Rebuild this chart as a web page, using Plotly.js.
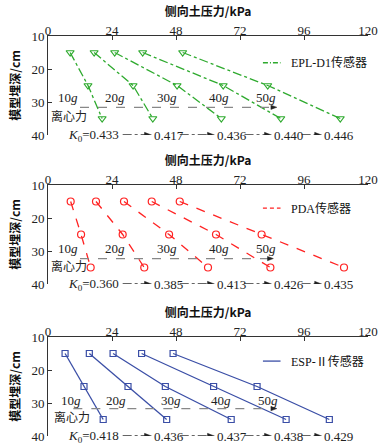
<!DOCTYPE html>
<html><head><meta charset="utf-8">
<script src="https://cdn.plot.ly/plotly-3.0.1.min.js"></script>
<style>body{margin:0;padding:0;background:#fff}#chart{width:382px;height:446px}</style>
</head><body><div id="chart"></div>
<script>
// ---- data ----
const depth = [15, 25, 35];
const gLabels = ['10', '20', '30', '40', '50'];
const eplValues = [[8.3, 15.0, 20.3], [17.3, 31.9, 39.3], [25.0, 48.4, 65.0], [35.5, 65.7, 87.3], [50.5, 82.4, 109.6]];
const pdaValues = [[8.5, 12.4, 16.0], [18.0, 28.0, 36.1], [28.5, 45.4, 60.0], [38.9, 63.0, 83.4], [49.4, 80.1, 111.0]];
const espValues = [[6.4, 13.5, 20.7], [15.5, 30.0, 44.5], [24.4, 44.0, 68.7], [35.1, 62.1, 89.3], [46.9, 78.4, 105.5]];
const eplK0 = ['0.433', '0.417', '0.436', '0.440', '0.446'];
const pdaK0 = ['0.360', '0.385', '0.413', '0.426', '0.435'];
const espK0 = ['0.418', '0.436', '0.437', '0.438', '0.429'];
const sensorNames = ['EPL-D1传感器', 'PDA传感器', 'ESP-Ⅱ传感器'];
const xTicks = [0, 24, 48, 72, 96, 120];
const yTicks = [10, 20, 30, 40];

// ---- styles ----
const panels = [
  {vals: eplValues, k0: eplK0, name: sensorNames[0], color: '#2eaa2e', dash: 'dashdot', symbol: 'triangle-down-open', msize: 7, gy: 28.6, cy: 34.0, ay: 31.6, ax0: 12, ax1: 85.8, legY: 18.1, gx: [7.6, 25.1, 44.5, 64.1, 81.6]},
  {vals: pdaValues, k0: pdaK0, name: sensorNames[1], color: '#ff2222', dash: 'dash', symbol: 'circle-open', msize: 7, gy: 29.3, cy: 34.5, ay: 32.3, ax0: 12, ax1: 84.5, legY: 17.0, gx: [7.6, 25.1, 44.5, 64.1, 81.6]},
  {vals: espValues, k0: espK0, name: sensorNames[2], color: '#3a4ea6', dash: 'solid', symbol: 'square-open', msize: 6, gy: 29.1, cy: 34.2, ay: 31.7, ax0: 9.5, ax1: 85.8, legY: 17.3, gx: [8.6, 25.5, 46.0, 64.9, 82.4]}
];
const W = 382, H = 446;
const xDom = [48 / W, 368 / W];
const yPix = [[36, 135], [185, 284], [337, 436]];
const serif = 'Liberation Serif, Times New Roman, serif';
const cjk = 'Noto Sans CJK SC, sans-serif';

const traces = [];
const annotations = [];
const shapes = [];
const layout = {
  width: W, height: H, margin: {l: 0, r: 0, t: 0, b: 0},
  paper_bgcolor: '#fff', plot_bgcolor: '#fff', showlegend: false,
  font: {family: serif, size: 13, color: '#222'},
  annotations: annotations, shapes: shapes
};

// arrowhead as a filled triangle path (tip at x, y); dx in x-data units, dy in y-data units
function arrowHead(xa, ya, x, y, dx, dy, color) {
  shapes.push({type: 'path', xref: xa, yref: ya,
    path: `M ${x},${y} L ${x - dx},${y - dy} L ${x - dx},${y + dy} Z`,
    fillcolor: color, line: {color: color, width: 0.5}});
}

// K0 row positions (x in data units)
const kLeft = [null, 39.0, 62.6, 84.0, 102.8];
const kRight = [27.4, 48.8, 73.1, 94.5];

panels.forEach((p, i) => {
  const n = i === 0 ? '' : String(i + 1);
  const xa = 'x' + n, ya = 'y' + n;
  layout['xaxis' + n] = {
    domain: xDom, anchor: ya, side: 'top', range: [0, 120], tickvals: xTicks,
    showline: true, linecolor: '#333', linewidth: 1, ticks: 'inside', ticklen: 4, tickcolor: '#333',
    ticklabelstandoff: -5,
    showgrid: false, zeroline: false, tickfont: {family: serif, size: 13, color: '#222'},
    title: {text: '侧向土压力/kPa', font: {family: cjk, size: 12, color: '#111', weight: 'bold'}, standoff: 3},
    automargin: false
  };
  layout['yaxis' + n] = {
    domain: [1 - yPix[i][1] / H, 1 - yPix[i][0] / H], anchor: xa, range: [40, 10], tickvals: yTicks,
    showline: true, linecolor: '#333', linewidth: 1, ticks: 'inside', ticklen: 4, tickcolor: '#333',
    showgrid: false, zeroline: false, tickfont: {family: serif, size: 13, color: '#222'},
    title: {text: '模型埋深/cm', font: {family: cjk, size: 12, color: '#111', weight: 'bold'}, standoff: 8},
    automargin: false
  };
  p.vals.forEach((v, j) => {
    traces.push({
      x: v, y: depth, xaxis: xa, yaxis: ya, type: 'scatter', mode: 'lines+markers',
      name: p.name, showlegend: false, cliponaxis: false,
      line: {color: p.color, width: 1.3, dash: p.dash},
      marker: {symbol: p.symbol, size: p.msize, color: p.color, line: {color: p.color, width: 1.2}}
    });
    annotations.push({xref: xa, yref: ya, x: p.gx[j], y: p.gy, showarrow: false,
      text: gLabels[j] + '<i>g</i>', font: {family: serif, size: 13, color: '#222'}});
  });
  // centrifugal label and arrow
  annotations.push({xref: xa, yref: ya, x: p.gx[0] + 0.3, y: p.cy, showarrow: false,
    text: '离心力', font: {family: cjk, size: 12, color: '#222'}});
  shapes.push({type: 'line', xref: xa, yref: ya, x0: p.ax0, x1: p.ax1 - 2.0, y0: p.ay, y1: p.ay,
    line: {color: '#888', width: 1.3, dash: 'dash'}});
  arrowHead(xa, ya, p.ax1, p.ay, 2.2, 0.65, '#222');
  // legend (drawn manually)
  shapes.push({type: 'line', xref: xa, yref: ya, x0: 80.6, x1: 87.2, y0: p.legY, y1: p.legY,
    line: {color: p.color, width: 1.3, dash: p.dash === 'solid' ? 'solid' : (p.dash === 'dash' ? '4px,3px' : '5px,2px,1px,2px')}});
  annotations.push({xref: xa, yref: ya, x: 90.2, y: p.legY, xanchor: 'left', showarrow: false,
    text: p.name, font: {family: serif + ', ' + cjk, size: 12, color: '#111'}});
  // K0 row
  annotations.push({xref: xa, yref: ya, x: kRight[0], y: 40, xanchor: 'right', showarrow: false,
    text: '<i>K</i><sub>0</sub>=' + p.k0[0], font: {family: serif, size: 13, color: '#222'}});
  for (let k = 1; k < 5; k++) {
    annotations.push({xref: xa, yref: ya, x: kLeft[k], y: 40, xanchor: 'left', showarrow: false,
      text: p.k0[k], font: {family: serif, size: 13, color: '#222'}});
    const tip = kLeft[k] - 0.2;
    shapes.push({type: 'line', xref: xa, yref: ya, x0: kRight[k - 1] + 0.6, x1: tip - 2.2, y0: 40, y1: 40,
      line: {color: '#333', width: 1.3, dash: 'dashdot'}});
    arrowHead(xa, ya, tip, 40, 2.6, 0.8, '#222');
  }
});

Plotly.newPlot('chart', traces, layout, {displayModeBar: false, staticPlot: true});
</script></body></html>
